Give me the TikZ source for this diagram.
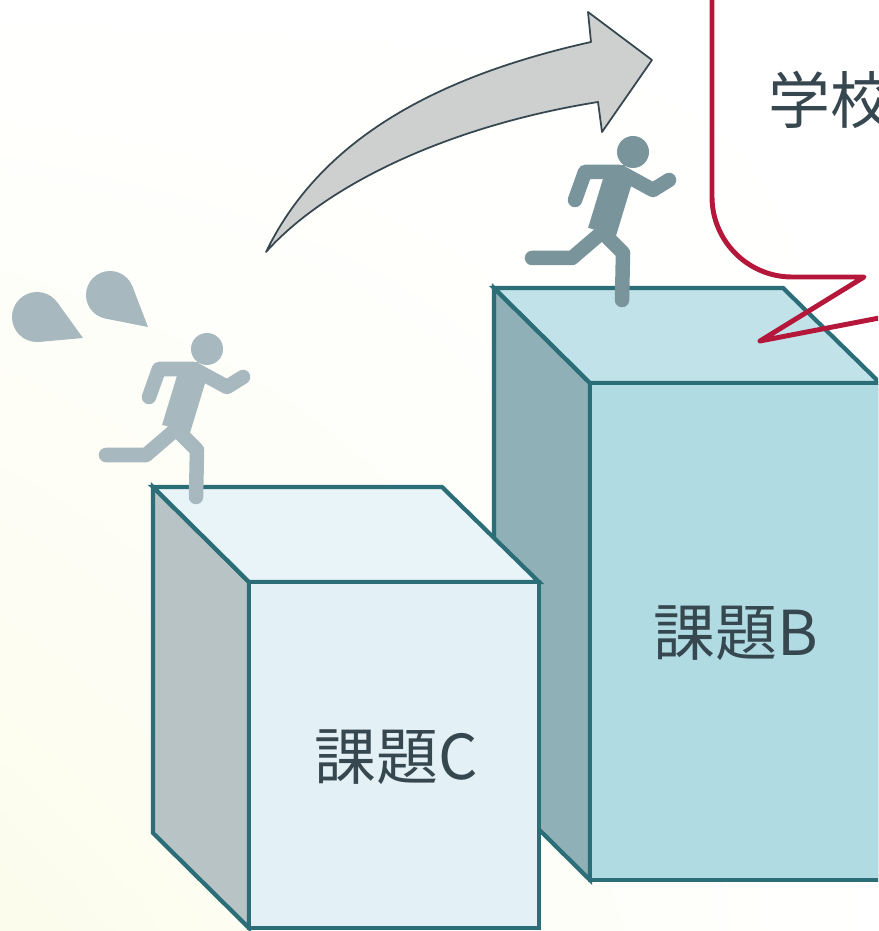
\documentclass[tikz,border=0pt]{standalone}
\usepackage{fontspec}
\usepackage{xcolor}
\newfontfamily\jpfont{Noto Sans CJK JP}
\usetikzlibrary{calc,shadings}

% colours
\definecolor{edgeteal}{HTML}{2B6E78}
\definecolor{topC}{HTML}{E8F4F8}
\definecolor{frontC}{HTML}{E3F0F6}
\definecolor{sideC}{HTML}{B7C3C5}
\definecolor{topB}{HTML}{C0E2E8}
\definecolor{frontB}{HTML}{B0DBE2}
\definecolor{sideB}{HTML}{8EB0B6}
\definecolor{runlight}{HTML}{A7B8BE}
\definecolor{rundark}{HTML}{7A949B}
\definecolor{arrowgray}{HTML}{CDD0CF}
\definecolor{textdark}{HTML}{37474F}
\definecolor{bubblered}{HTML}{B5173A}
\definecolor{cream}{HTML}{FCFCEC}

\tikzset{
  face/.style={draw=edgeteal, line width=1.2pt},
  limb/.style={line width=0.145cm, line cap=round, line join=round},
  boxtext/.style={font=\jpfont\fontsize{17.6pt}{20pt}\selectfont, text=textdark, inner sep=0pt},
  % running man, origin at the head
  runner/.pic={
    \fill (0,0) circle[radius=16];
    \draw[limb] (-58,48) -- (-48,20) -- (-13,20) -- (20,38) -- (36,28);
    \draw[limb, line width=0.29cm, line cap=butt] (-14,24) -- (-31,80);
    \fill (-29,13) rectangle (-8,27);
    \draw[limb] (-33,82) -- (-61,106) -- (-101,106);
    \draw[limb] (-31,80) -- (-10,101) -- (-11,148);
  }
}

\begin{document}
\begin{tikzpicture}[x=0.01cm, y=-0.01cm]
  \useasboundingbox (0,0) rectangle (878,931);
  \clip (0,0) rectangle (878,931);
  \shade[upper left=white, upper right=white, lower left=cream, lower right=white]
    (0,0) rectangle (878,931);

  % block B (back)
  \coordinate (B1) at (494,288);
  \coordinate (B2) at (783,288);
  \coordinate (B3) at (880,383);
  \coordinate (B4) at (590,383);
  \coordinate (B5) at (590,880);
  \coordinate (B6) at (494,785);
  \coordinate (B7) at (880,880);
  \filldraw[face, fill=sideB] (B1) -- (B4) -- (B5) -- (B6) -- cycle;
  \filldraw[face, fill=topB] (B1) -- (B2) -- (B3) -- (B4) -- cycle;
  \filldraw[face, fill=frontB] (B4) -- (B3) -- (B7) -- (B5) -- cycle;
  \node[boxtext] (themeB) at (736,633) {課題B};

  % block C (front)
  \coordinate (C1) at (153,487);
  \coordinate (C2) at (442,487);
  \coordinate (C3) at (539,582);
  \coordinate (C4) at (249,582);
  \coordinate (C5) at (249,928);
  \coordinate (C6) at (153,833);
  \coordinate (C7) at (539,928);
  \filldraw[face, fill=sideC] (C1) -- (C4) -- (C5) -- (C6) -- cycle;
  \filldraw[face, fill=topC] (C1) -- (C2) -- (C3) -- (C4) -- cycle;
  \filldraw[face, fill=frontC] (C4) -- (C3) -- (C7) -- (C5) -- cycle;
  \node[boxtext] (themeC) at (396,757) {課題C};

  % runners
  \pic[color=runlight] at (207,349) {runner};
  \pic[color=rundark] at (633,152) {runner};

  % sweat drops
  \coordinate (d1) at (37,317);
  \fill[runlight] (d1) circle[radius=25];
  \fill[runlight] (83,338) -- ($(d1)+(84.8:25)$) -- ($(d1)+(324.2:25)$) -- cycle;
  \coordinate (d2) at (110,295);
  \fill[runlight] (d2) circle[radius=24];
  \fill[runlight] (148,327) -- ($(d2)+(100.8:24)$) -- ($(d2)+(339.2:24)$) -- cycle;

  % jump arrow
  \filldraw[fill=arrowgray, draw=textdark, line width=0.5pt, line join=round]
    (266,252) .. controls (316,149) and (420,80) .. (591,42)
    -- (588,12) -- (652,60) -- (602,132) -- (598,102)
    .. controls (448,126) and (326,185) .. (266,252) -- cycle;

  % speech bubble
  \coordinate (tail) at (760,341);
  \draw[bubblered, line width=1.4pt, line join=round, line cap=round]
    (712,-20) -- (712,197) .. controls (712,241) and (748,277) .. (792,277)
    -- (864,277) -- (tail) -- (900,314);
  \node[boxtext, anchor=west] (school) at (768,100) {学校};
\end{tikzpicture}
\end{document}
